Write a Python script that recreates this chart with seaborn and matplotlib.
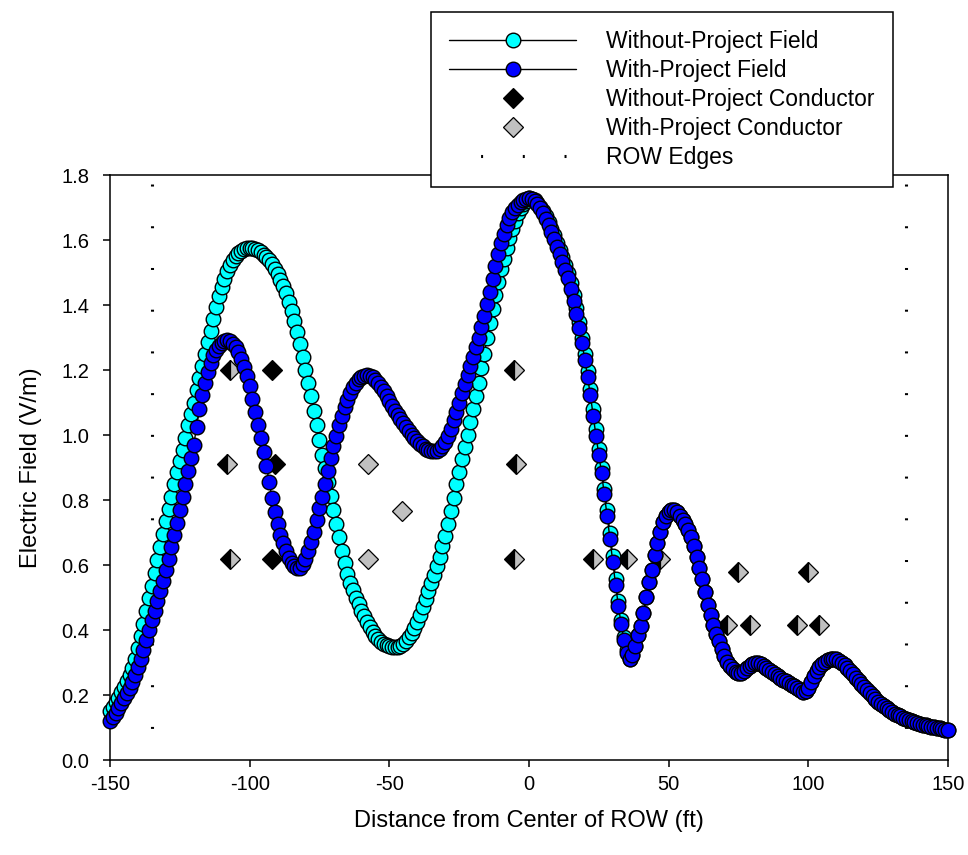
import matplotlib
matplotlib.use("Agg")
import matplotlib.pyplot as plt
import seaborn as sns
import pandas as pd
from matplotlib.lines import Line2D

# distance from ROW centre, one sample per foot
distance_ft = list(range(-150, 151))

# electric field, V/m
field_without = [
    0.150, 0.163, 0.177, 0.192, 0.208, 0.225, 0.243, 0.262, 0.282, 0.310,
    0.345, 0.382, 0.420, 0.458, 0.497, 0.536, 0.575, 0.615, 0.655, 0.695,
    0.735, 0.773, 0.810, 0.848, 0.885, 0.920, 0.955, 0.992, 1.030, 1.065,
    1.100, 1.138, 1.175, 1.213, 1.250, 1.285, 1.320, 1.358, 1.395, 1.427,
    1.455, 1.481, 1.505, 1.523, 1.540, 1.551, 1.560, 1.567, 1.572, 1.574,
    1.575, 1.575, 1.573, 1.568, 1.562, 1.555, 1.547, 1.537, 1.525, 1.511,
    1.495, 1.478, 1.460, 1.436, 1.410, 1.381, 1.350, 1.316, 1.280, 1.241,
    1.200, 1.160, 1.120, 1.075, 1.030, 0.985, 0.940, 0.898, 0.855, 0.812,
    0.770, 0.727, 0.685, 0.643, 0.605, 0.573, 0.545, 0.522, 0.500, 0.480,
    0.460, 0.442, 0.425, 0.410, 0.395, 0.383, 0.372, 0.364, 0.358, 0.353,
    0.350, 0.348, 0.348, 0.349, 0.352, 0.358, 0.366, 0.377, 0.390, 0.407,
    0.425, 0.447, 0.470, 0.495, 0.520, 0.545, 0.570, 0.597, 0.625, 0.657,
    0.690, 0.727, 0.765, 0.806, 0.848, 0.887, 0.925, 0.962, 1.000, 1.040,
    1.080, 1.120, 1.160, 1.205, 1.250, 1.298, 1.345, 1.388, 1.430, 1.470,
    1.510, 1.543, 1.575, 1.605, 1.635, 1.660, 1.682, 1.698, 1.712, 1.721,
    1.728, 1.727, 1.722, 1.713, 1.702, 1.689, 1.673, 1.655, 1.635, 1.614,
    1.592, 1.570, 1.547, 1.523, 1.497, 1.467, 1.430, 1.390, 1.348, 1.300,
    1.250, 1.197, 1.141, 1.080, 1.017, 0.958, 0.900, 0.835, 0.768, 0.698,
    0.628, 0.557, 0.490, 0.430, 0.378, 0.337, 0.312, 0.322, 0.352, 0.385,
    0.412, 0.452, 0.503, 0.548, 0.585, 0.630, 0.667, 0.703, 0.733, 0.750,
    0.762, 0.768, 0.768, 0.762, 0.752, 0.740, 0.725, 0.707, 0.685, 0.657,
    0.626, 0.592, 0.557, 0.518, 0.478, 0.445, 0.415, 0.388, 0.365, 0.342,
    0.320, 0.303, 0.290, 0.279, 0.271, 0.267, 0.269, 0.275, 0.283, 0.290,
    0.295, 0.297, 0.297, 0.294, 0.290, 0.284, 0.277, 0.270, 0.264, 0.258,
    0.252, 0.247, 0.242, 0.237, 0.232, 0.227, 0.221, 0.215, 0.210, 0.211,
    0.222, 0.240, 0.258, 0.273, 0.285, 0.295, 0.302, 0.307, 0.311, 0.312,
    0.311, 0.306, 0.299, 0.292, 0.284, 0.274, 0.264, 0.253, 0.243, 0.233,
    0.224, 0.214, 0.205, 0.196, 0.188, 0.180, 0.173, 0.166, 0.160, 0.154,
    0.148, 0.143, 0.138, 0.134, 0.130, 0.126, 0.123, 0.120, 0.117, 0.114,
    0.112, 0.109, 0.107, 0.105, 0.103, 0.101, 0.099, 0.097, 0.095, 0.093,
    0.092,
]
field_with = [
    0.120, 0.133, 0.146, 0.160, 0.175, 0.190, 0.206, 0.222, 0.240, 0.262,
    0.285, 0.312, 0.340, 0.370, 0.400, 0.430, 0.460, 0.490, 0.520, 0.552,
    0.585, 0.620, 0.655, 0.692, 0.730, 0.770, 0.810, 0.850, 0.890, 0.930,
    0.970, 1.025, 1.080, 1.122, 1.160, 1.193, 1.222, 1.245, 1.262, 1.274,
    1.283, 1.289, 1.292, 1.289, 1.281, 1.270, 1.255, 1.234, 1.210, 1.182,
    1.150, 1.110, 1.070, 1.030, 0.990, 0.948, 0.905, 0.855, 0.805, 0.763,
    0.725, 0.693, 0.667, 0.642, 0.622, 0.606, 0.596, 0.590, 0.592, 0.603,
    0.620, 0.643, 0.670, 0.703, 0.738, 0.774, 0.810, 0.850, 0.890, 0.928,
    0.965, 0.998, 1.030, 1.058, 1.085, 1.109, 1.130, 1.147, 1.160, 1.171,
    1.178, 1.183, 1.185, 1.183, 1.178, 1.170, 1.160, 1.148, 1.135, 1.120,
    1.105, 1.090, 1.075, 1.062, 1.050, 1.037, 1.025, 1.012, 1.000, 0.990,
    0.982, 0.973, 0.965, 0.958, 0.953, 0.950, 0.950, 0.952, 0.957, 0.966,
    0.978, 0.997, 1.020, 1.045, 1.070, 1.100, 1.130, 1.158, 1.185, 1.212,
    1.240, 1.270, 1.300, 1.332, 1.365, 1.402, 1.440, 1.480, 1.520, 1.557,
    1.590, 1.620, 1.645, 1.667, 1.685, 1.698, 1.708, 1.716, 1.722, 1.727,
    1.730, 1.727, 1.720, 1.710, 1.697, 1.682, 1.665, 1.645, 1.624, 1.602,
    1.580, 1.557, 1.533, 1.508, 1.482, 1.450, 1.412, 1.372, 1.330, 1.282,
    1.232, 1.178, 1.122, 1.060, 0.997, 0.940, 0.882, 0.817, 0.750, 0.680,
    0.610, 0.540, 0.475, 0.418, 0.368, 0.330, 0.310, 0.322, 0.352, 0.385,
    0.412, 0.452, 0.503, 0.548, 0.585, 0.630, 0.667, 0.703, 0.733, 0.750,
    0.762, 0.768, 0.768, 0.762, 0.752, 0.740, 0.725, 0.707, 0.685, 0.657,
    0.626, 0.592, 0.557, 0.518, 0.478, 0.445, 0.415, 0.388, 0.365, 0.342,
    0.320, 0.303, 0.290, 0.279, 0.271, 0.267, 0.269, 0.275, 0.283, 0.290,
    0.295, 0.297, 0.297, 0.294, 0.290, 0.284, 0.277, 0.270, 0.264, 0.258,
    0.252, 0.247, 0.242, 0.237, 0.232, 0.227, 0.221, 0.215, 0.210, 0.211,
    0.222, 0.240, 0.258, 0.273, 0.285, 0.295, 0.302, 0.307, 0.311, 0.312,
    0.311, 0.306, 0.299, 0.292, 0.284, 0.274, 0.264, 0.253, 0.243, 0.233,
    0.224, 0.214, 0.205, 0.196, 0.188, 0.180, 0.173, 0.166, 0.160, 0.154,
    0.148, 0.143, 0.138, 0.134, 0.130, 0.126, 0.123, 0.120, 0.117, 0.114,
    0.112, 0.109, 0.107, 0.105, 0.103, 0.101, 0.099, 0.097, 0.095, 0.093,
    0.092,
]

# conductor positions (plotted on the same axes)
cond_without_x = [-107, -108, -107, -92, -91, -92, -5.5, -4.5, -5.5,
                  23, 35, 47, 75, 100, 71, 79, 96, 104]
cond_without_y = [1.2, 0.91, 0.62, 1.2, 0.91, 0.62, 1.2, 0.91, 0.62,
                  0.62, 0.62, 0.62, 0.58, 0.58, 0.415, 0.415, 0.415, 0.415]
cond_with_x = [-107, -108, -107, -57.5, -45.5, -57.5, -5.5, -4.5, -5.5,
               23, 35, 47, 75, 100, 71, 79, 96, 104]
cond_with_y = [1.2, 0.91, 0.62, 0.91, 0.765, 0.62, 1.2, 0.91, 0.62,
               0.62, 0.62, 0.62, 0.58, 0.58, 0.415, 0.415, 0.415, 0.415]

row_edges_ft = [-135, 135]

labels = ["Without-Project Field", "With-Project Field",
          "Without-Project Conductor", "With-Project Conductor", "ROW Edges"]

CYAN = "#00ffff"
BLUE = "#0000ff"
GRAY = "#c0c0c0"
ROW_DASH = (7.3, (1.44, 28.6))
MS_CIRCLE = 10.5
MS_DIAMOND = 9.8

sns.set_style("ticks")
plt.rcParams.update({
    "font.family": ["Liberation Sans", "DejaVu Sans"],
    "lines.scale_dashes": False,
    "axes.linewidth": 1.1,
    "axes.unicode_minus": False,
    "text.color": "black",
    "axes.labelcolor": "black",
    "xtick.color": "black",
    "ytick.color": "black",
    "axes.edgecolor": "black",
})

fig = plt.figure(figsize=(9.68, 8.55), dpi=100)
ax = fig.add_axes([0.1136, 0.1111, 0.8657, 0.6842])

df = pd.DataFrame({"x": distance_ft, "without": field_without, "with": field_with})

# conductors: shared positions get a half black / half gray diamond
cw = pd.DataFrame({"x": cond_without_x, "y": cond_without_y})
cp = pd.DataFrame({"x": cond_with_x, "y": cond_with_y})
shared = cw.merge(cp, on=["x", "y"])
only_without = cw.merge(shared, on=["x", "y"], how="left", indicator=True)
only_without = only_without[only_without["_merge"] == "left_only"]
only_with = cp.merge(shared, on=["x", "y"], how="left", indicator=True)
only_with = only_with[only_with["_merge"] == "left_only"]

ax.plot(only_without["x"], only_without["y"], ls="none", marker="D",
        ms=MS_DIAMOND, mfc="black", mec="black", mew=0.9, zorder=1.5)
ax.plot(only_with["x"], only_with["y"], ls="none", marker="D",
        ms=MS_DIAMOND, mfc=GRAY, mec="black", mew=0.9, zorder=1.5)
ax.plot(shared["x"], shared["y"], ls="none", marker="D", ms=MS_DIAMOND,
        fillstyle="left", mfc="black", markerfacecoloralt=GRAY,
        mec="black", mew=0.9, zorder=1.5)

# ROW edges
for xe in row_edges_ft:
    ax.plot([xe, xe], [0, 1.8], color="black", lw=2.2, linestyle=ROW_DASH,
            zorder=1.2)

# field profiles
sns.lineplot(data=df, x="x", y="without", ax=ax, sort=False, color="black",
             lw=1, marker="o", markersize=MS_CIRCLE, markerfacecolor=CYAN,
             markeredgecolor="black", markeredgewidth=1.0, clip_on=False,
             zorder=3)
sns.lineplot(data=df, x="x", y="with", ax=ax, sort=False, color="black",
             lw=1, marker="o", markersize=MS_CIRCLE, markerfacecolor=BLUE,
             markeredgecolor="black", markeredgewidth=1.0, clip_on=False,
             zorder=3)

ax.set_xlim(-150, 150)
ax.set_ylim(0, 1.8)
ax.set_xticks([-150, -100, -50, 0, 50, 100, 150])
ax.set_yticks([0.0, 0.2, 0.4, 0.6, 0.8, 1.0, 1.2, 1.4, 1.6, 1.8])
ax.set_yticklabels([f"{v:.1f}" for v in ax.get_yticks()])
ax.tick_params(axis="both", direction="out", length=5, width=1.1,
               labelsize=14.5, top=False, right=False)
ax.tick_params(axis="x", pad=6)
ax.tick_params(axis="y", pad=10)

ax.set_xlabel("Distance from Center of ROW (ft)", fontsize=17, labelpad=11)
ax.set_ylabel("Electric Field (V/m)", fontsize=17, labelpad=14)

handles = [
    Line2D([], [], color="black", lw=1, marker="o", ms=MS_CIRCLE, mfc=CYAN,
           mec="black", mew=1.0),
    Line2D([], [], color="black", lw=1, marker="o", ms=MS_CIRCLE, mfc=BLUE,
           mec="black", mew=1.0),
    Line2D([], [], ls="none", marker="D", ms=MS_DIAMOND, mfc="black",
           mec="black", mew=0.9),
    Line2D([], [], ls="none", marker="D", ms=MS_DIAMOND, mfc=GRAY,
           mec="black", mew=0.9),
    Line2D([], [], color="black", lw=2.2, linestyle=ROW_DASH),
]
leg = fig.legend(handles, labels, loc="upper right",
                 bbox_to_anchor=(0.9225, 0.986), borderaxespad=0,
                 frameon=True, fancybox=False, framealpha=1,
                 edgecolor="black", fontsize=16.5, handlelength=5.55,
                 handletextpad=1.3, labelspacing=0.26, borderpad=0.8,
                 numpoints=1)
leg.get_frame().set_linewidth(1.1)

fig.savefig("out.png", dpi=100)
